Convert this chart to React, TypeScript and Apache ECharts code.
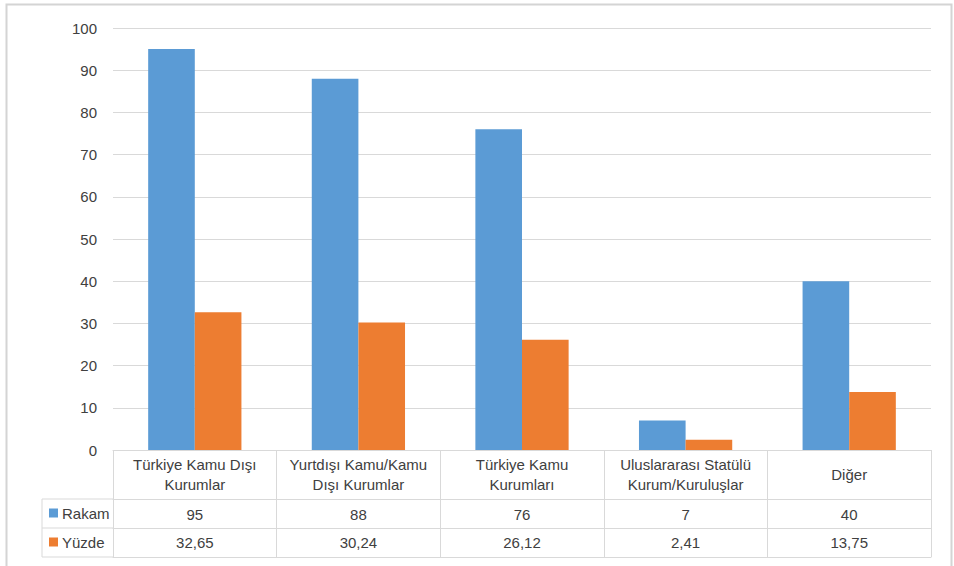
import React, { useEffect, useRef } from "react";
import * as echarts from "echarts";

// Category names, with the line breaks used in the table header
const categories = [
  "Türkiye Kamu Dışı\nKurumlar",
  "Yurtdışı Kamu/Kamu\nDışı Kurumlar",
  "Türkiye Kamu\nKurumları",
  "Uluslararası Statülü\nKurum/Kuruluşlar",
  "Diğer",
];
const seriesNames = ["Rakam", "Yüzde"];
const rakam = [95, 88, 76, 7, 40];
const yuzde = [32.65, 30.24, 26.12, 2.41, 13.75];
const yTicks = { min: 0, max: 100, interval: 10 };

const BLUE = "#5B9BD5";
const ORANGE = "#ED7D31";
const GRID_LINE = "#d9d9d9";
const TEXT = "#404040";
const FONT = "'Liberation Sans', Arial, sans-serif";
const FONT_SIZE = 15;

const fmtPct = (v: number) => v.toFixed(2).replace(".", ",");

export default function App() {
  const ref = useRef<HTMLDivElement>(null);

  useEffect(() => {
    if (!ref.current) return;
    const chart = echarts.init(ref.current, null, { renderer: "svg" });

    // layout of the plot and the data table below it
    const gridLeft = 113;
    const gridRight = 931;
    const axisY = 450;
    const rowH = 29;
    const headerH = 49;
    const row1 = axisY + headerH; // top of "Rakam" row
    const row2 = row1 + rowH; // top of "Yüzde" row
    const row3 = row2 + rowH; // bottom of table
    const tableLeft = 42;

    const tableAxis = (
      data: string[],
      offset: number,
      tickLen: number,
      margin: number,
      showLabel = true
    ) => ({
      type: "category",
      data,
      position: "bottom",
      offset,
      gridIndex: 0,
      boundaryGap: true,
      axisLine: { show: true, lineStyle: { color: GRID_LINE, width: 1 } },
      axisTick: {
        show: tickLen > 0,
        length: tickLen,
        alignWithLabel: false,
        lineStyle: { color: GRID_LINE, width: 1 },
      },
      axisLabel: {
        show: showLabel,
        interval: 0,
        margin,
        verticalAlign: "middle",
        color: TEXT,
        fontSize: FONT_SIZE,
        fontFamily: FONT,
        lineHeight: 20,
      },
      splitLine: { show: false },
    });

    const option: any = {
      animation: false,
      backgroundColor: "#ffffff",
      textStyle: { fontFamily: FONT },
      grid: {
        left: gridLeft,
        right: 954 - gridRight,
        top: 28,
        bottom: 566 - axisY,
        containLabel: false,
      },
      xAxis: [
        tableAxis(categories, 0, headerH, 24),
        tableAxis(rakam.map(String), headerH, rowH, 15),
        tableAxis(yuzde.map(fmtPct), headerH + rowH, rowH, 14.5),
        tableAxis(categories.map(() => ""), headerH + 2 * rowH, 0, 0, false),
      ],
      yAxis: {
        type: "value",
        min: yTicks.min,
        max: yTicks.max,
        interval: yTicks.interval,
        axisLine: { show: false },
        axisTick: { show: false },
        axisLabel: {
          color: TEXT,
          fontSize: FONT_SIZE,
          fontFamily: FONT,
          margin: 16,
        },
        splitLine: { lineStyle: { color: GRID_LINE, width: 1 } },
      },
      series: [
        {
          name: seriesNames[0],
          type: "bar",
          xAxisIndex: 0,
          data: rakam,
          itemStyle: { color: BLUE },
          barGap: "0%",
          barCategoryGap: "43%",
        },
        {
          name: seriesNames[1],
          type: "bar",
          xAxisIndex: 0,
          data: yuzde,
          itemStyle: { color: ORANGE },
          barGap: "0%",
          barCategoryGap: "43%",
        },
      ],
      graphic: [
        // outer chart-area frame
        {
          type: "rect",
          shape: { x: 6.5, y: 4.5, width: 945, height: 580 },
          style: { fill: "none", stroke: "#d4d4d4", lineWidth: 2 },
          silent: true,
        },
        // legend column of the data table
        ...[row1, row2, row3].map((y) => ({
          type: "line",
          shape: { x1: tableLeft, y1: y, x2: gridLeft, y2: y },
          style: { stroke: GRID_LINE, lineWidth: 1 },
          silent: true,
        })),
        {
          type: "line",
          shape: { x1: tableLeft, y1: row1, x2: tableLeft, y2: row3 },
          style: { stroke: GRID_LINE, lineWidth: 1 },
          silent: true,
        },
        ...seriesNames.flatMap((name, i) => {
          const cy = row1 + rowH * i + rowH / 2;
          return [
            {
              type: "rect",
              shape: { x: 49, y: cy - 5, width: 9, height: 9 },
              style: { fill: i === 0 ? BLUE : ORANGE },
              silent: true,
            },
            {
              type: "text",
              x: 62,
              y: cy,
              style: {
                text: name,
                fill: TEXT,
                fontSize: FONT_SIZE,
                fontFamily: FONT,
                verticalAlign: "middle",
                align: "left",
              },
              silent: true,
            },
          ];
        }),
      ],
    };

    chart.setOption(option);
    return () => chart.dispose();
  }, []);

  return (
    <div
      ref={ref}
      style={{ position: "fixed", left: 0, top: 0, width: 954, height: 566 }}
    />
  );
}
